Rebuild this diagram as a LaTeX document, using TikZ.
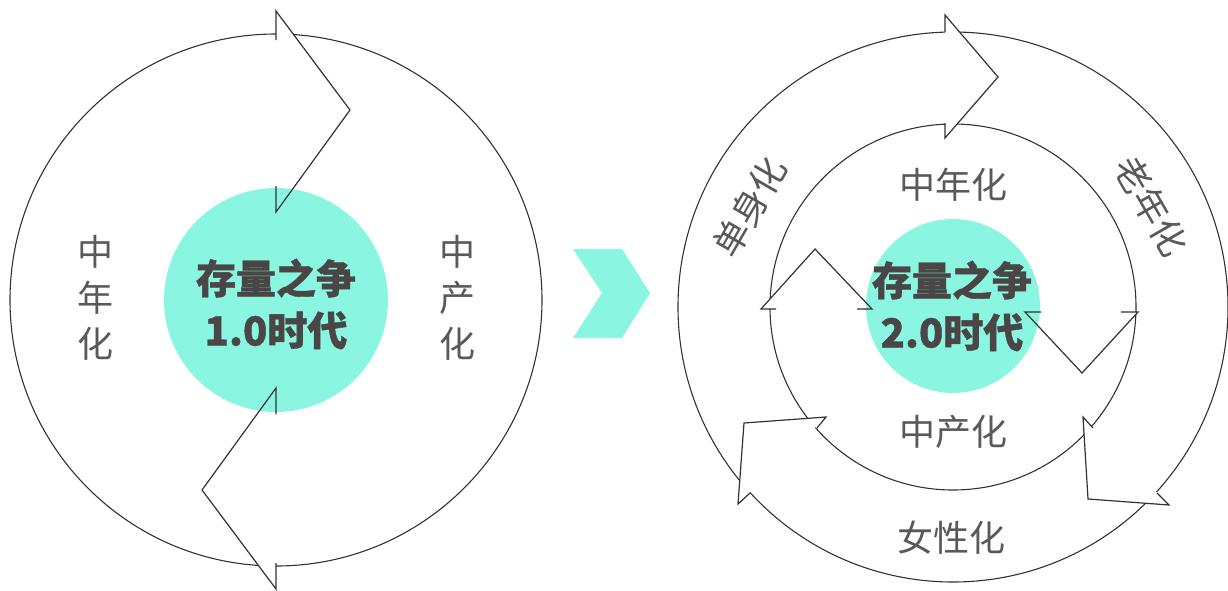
\documentclass[tikz,border=0pt]{standalone}
\usepackage{fontspec}
\newfontfamily\cjk{Noto Sans CJK SC}
\definecolor{cy}{RGB}{138,246,226}
\definecolor{lab}{RGB}{89,89,89}
\definecolor{ttlc}{RGB}{74,70,70}
\definecolor{lnc}{RGB}{50,50,50}
\begin{document}
\begin{tikzpicture}[x=0.5pt,y=-0.5pt,
  ln/.style={draw=lnc,line width=0.6pt,line join=miter},
  ring/.style={draw=lnc,line width=0.55pt},
  hide/.style={fill=white,draw=none},
  disc/.style={fill=cy,draw=none},
  lbl/.style={font=\cjk\fontsize{18}{23}\selectfont,text=lab,align=center,inner sep=0pt},
  ttl/.style={font=\cjk\bfseries\addfontfeature{FakeBold=1}\fontsize{20}{26}\selectfont,text=ttlc,align=center,inner sep=0pt}]
\useasboundingbox (0,0) rectangle (1228,590);
% ---------------- left diagram ----------------
\draw[ring] (276,300) circle[radius=266];
\fill[hide] (276,11)--(350,110)--(276,212)--cycle;
\fill[hide] (276,589)--(202,490)--(276,388)--cycle;
\fill[disc] (276,300) circle[radius=112];
\draw[ln] (276,40)--(276,11)--(350,110)--(276,212)--(276,186);
\draw[ln] (276,563)--(276,589)--(202,490)--(276,388)--(276,414);
\node[lbl] (lmid) at (95,298) {中\\年\\化};
\node[lbl] (lprod) at (457,298) {中\\产\\化};
\node[ttl] (t1) at (276,304) {存量之争\\1.0时代};
% ---------------- chevron ----------------
\fill[cy] (573,249)--(622,249)--(650,293)--(622,338)--(573,338)--(602,293)--cycle;
% ---------------- right diagram ----------------
\draw[ring] (953,307) circle[radius=275];
\draw[ring] (953,307) circle[radius=183];
% outer ring arrowheads
\fill[hide] (945,15)--(998,77)--(945,138)--cycle;
\fill[hide] (826,417)--(744,423)--(738,504)--cycle;
\fill[hide] (1083,417)--(1088,499)--(1169,505)--cycle;
% inner ring arrowheads
\fill[hide] (761,309)--(815,249)--(872,309)--cycle;
\fill[hide] (1025,312)--(1082,373)--(1138,312)--cycle;
\fill[disc] (953,306) circle[radius=87];
\draw[ln] (945,32)--(945,15)--(998,77)--(945,138)--(945,123);
\draw[ln] (817,428)--(826,417)--(744,423)--(738,504)--(750,493);
\draw[ln] (1093,428)--(1083,417)--(1088,499)--(1169,505)--(1157,493);
\draw[ln] (776,309)--(761,309)--(815,249)--(872,309)--(857,309);
\draw[ln] (1041,312)--(1025,312)--(1082,373)--(1138,312)--(1121,312);
\node[lbl] (imid) at (953,185) {中年化};
\node[lbl] (iprod) at (953,432) {中产化};
\node[lbl] (fem) at (951,538) {女性化};
\node[lbl,rotate=60] (single) at (750,207) {单身化};
\node[lbl,rotate=-60] (old) at (1151,206) {老年化};
\node[ttl] (t2) at (952,306) {存量之争\\2.0时代};
\end{tikzpicture}
\end{document}
